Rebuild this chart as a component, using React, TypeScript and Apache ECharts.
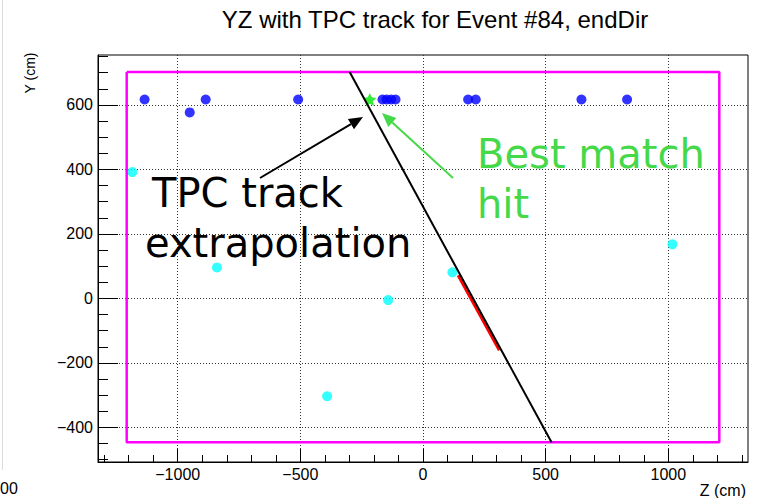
import React, { useEffect, useRef } from "react";
import * as echarts from "echarts";

const TITLE = "YZ with TPC track for Event #84, endDir";

// Axis ranges (cm)
const zRange = [-1325, 1325];
const yRange = [-507, 755];

const zMajorTicks = [-1000, -500, 0, 500, 1000];
const zMinorTicks = [
  -1300, -1200, -1100, -1000, -900, -800, -700, -600, -500, -400, -300, -200, -100,
  0, 100, 200, 300, 400, 500, 600, 700, 800, 900, 1000, 1100, 1200, 1300,
];
const yMajorTicks = [-400, -200, 0, 200, 400, 600];
const yMinorTicks = [
  -500, -450, -400, -350, -300, -250, -200, -150, -100, -50, 0, 50, 100, 150, 200,
  250, 300, 350, 400, 450, 500, 550, 600, 650, 700, 750,
];

// Detector outline
const boxZ = [-1208, 1208, 1208, -1208, -1208];
const boxY = [702, 702, -446, -446, 702];

// CRT hits (two groups)
const blueZ = [-1135, -951, -886, -509, -165, -148, -130, -112, 184, 215, 646, 832];
const blueY = [617, 577, 617, 617, 617, 617, 617, 617, 617, 617, 617, 617];
const cyanZ = [-1185, -840, -391, -142, 120, 1017];
const cyanY = [392, 96, -303, -5, 81, 168];

// Best matching hit
const bestZ = [-217];
const bestY = [617];

// TPC track and its extrapolation
const trackZ = [-299, 524];
const trackY = [702, -446];
const tpcZ = [144, 312];
const tpcY = [72, -160];

const pairs = (xs: number[], ys: number[]) => xs.map((x, i) => [x, ys[i]]);
const fmt = (v: number) => (v < 0 ? "\u2212" + Math.abs(v) : String(v));

const AXIS_FONT = '"Liberation Sans", Arial, sans-serif';
const NOTE_FONT = '"DejaVu Sans", sans-serif';
const NOTE_GREEN = "#45d94a";

const STAR =
  "path://M0,-10 L2.9,-4 L9.5,-3.1 L4.8,1.5 L5.9,8.1 L0,5 L-5.9,8.1 L-4.8,1.5 L-9.5,-3.1 L-2.9,-4 Z";

function arrow(tail: [number, number], tip: [number, number], color: string) {
  const headLen = 14;
  const headHalf = 6;
  const dx = tip[0] - tail[0];
  const dy = tip[1] - tail[1];
  const len = Math.hypot(dx, dy);
  const ux = dx / len;
  const uy = dy / len;
  const bx = tip[0] - ux * headLen;
  const by = tip[1] - uy * headLen;
  const px = -uy;
  const py = ux;
  return [
    {
      type: "line",
      shape: { x1: tail[0], y1: tail[1], x2: bx, y2: by },
      style: { stroke: color, lineWidth: 2 },
      z: 100,
    },
    {
      type: "polygon",
      shape: {
        points: [
          [tip[0], tip[1]],
          [bx + px * headHalf, by + py * headHalf],
          [bx - px * headHalf, by - py * headHalf],
        ],
      },
      style: { fill: color },
      z: 100,
    },
  ];
}

function noteText(text: string, x: number, y: number, color: string) {
  return {
    type: "text",
    x,
    y,
    z: 100,
    style: {
      text,
      fill: color,
      font: `40px ${NOTE_FONT}`,
      align: "left",
      verticalAlign: "middle",
      textAlign: "left",
      textVerticalAlign: "middle",
    },
  };
}

export default function App() {
  const ref = useRef<HTMLDivElement>(null);

  useEffect(() => {
    document.body.style.margin = "0";
    if (!ref.current) return;
    const chart = echarts.init(ref.current, undefined, { renderer: "svg" });

    const axisLabel = {
      color: "#000",
      fontSize: 16,
      fontFamily: AXIS_FONT,
      formatter: fmt,
    };

    const option = {
      animation: false,
      backgroundColor: "#fff",
      grid: {
        left: 98,
        right: 10,
        top: 55,
        bottom: 36,
        show: true,
        borderColor: "#000",
        borderWidth: 1,
        backgroundColor: "#fff",
        containLabel: false,
        outerBoundsMode: "none",
      },
      xAxis: [
        {
          type: "value",
          min: zRange[0],
          max: zRange[1],
          position: "bottom",
          axisLine: { show: true, onZero: false, lineStyle: { color: "#000", width: 1 } },
          axisTick: {
            show: true,
            inside: true,
            length: 13,
            customValues: zMajorTicks,
            lineStyle: { color: "#000" },
          },
          axisLabel: { ...axisLabel, margin: 4, customValues: zMajorTicks },
          splitLine: { show: true, lineStyle: { color: "#333", type: [1, 2], width: 1 } },
        },
        {
          type: "value",
          min: zRange[0],
          max: zRange[1],
          position: "bottom",
          axisLine: { show: false, onZero: false },
          axisTick: {
            show: true,
            inside: true,
            length: 7,
            customValues: zMinorTicks,
            lineStyle: { color: "#000" },
          },
          axisLabel: { show: false },
          splitLine: { show: false },
        },
      ],
      yAxis: [
        {
          type: "value",
          min: yRange[0],
          max: yRange[1],
          position: "left",
          axisLine: { show: true, onZero: false, lineStyle: { color: "#000", width: 1 } },
          axisTick: {
            show: true,
            inside: true,
            length: 20,
            customValues: yMajorTicks,
            lineStyle: { color: "#000" },
          },
          axisLabel: { ...axisLabel, margin: 5, customValues: yMajorTicks },
          splitLine: { show: true, lineStyle: { color: "#333", type: [1, 2], width: 1 } },
        },
        {
          type: "value",
          min: yRange[0],
          max: yRange[1],
          position: "left",
          axisLine: { show: false, onZero: false },
          axisTick: {
            show: true,
            inside: true,
            length: 10,
            customValues: yMinorTicks,
            lineStyle: { color: "#000" },
          },
          axisLabel: { show: false },
          splitLine: { show: false },
        },
      ],
      series: [
        {
          name: "outline",
          type: "line",
          data: pairs(boxZ, boxY),
          symbol: "none",
          lineStyle: { color: "#ff00ff", width: 2.5 },
          silent: true,
        },
        {
          name: "tpc",
          type: "line",
          data: pairs(tpcZ, tpcY),
          symbol: "none",
          lineStyle: { color: "#ff0000", width: 3.5 },
        },
        {
          name: "extrapolation",
          type: "line",
          data: pairs(trackZ, trackY),
          symbol: "none",
          lineStyle: { color: "#000", width: 2 },
        },
        {
          name: "hits A",
          type: "scatter",
          data: pairs(blueZ, blueY),
          symbol: "circle",
          symbolSize: 10,
          itemStyle: { color: "#0000ff" },
        },
        {
          name: "hits B",
          type: "scatter",
          data: pairs(cyanZ, cyanY),
          symbol: "circle",
          symbolSize: 10,
          itemStyle: { color: "#00ffff" },
        },
        {
          name: "best",
          type: "scatter",
          data: pairs(bestZ, bestY),
          symbol: STAR,
          symbolSize: 13,
          itemStyle: { color: "#00e600" },
        },
      ],
      graphic: [
        {
          type: "line",
          shape: { x1: 2.5, y1: 0, x2: 2.5, y2: 470 },
          style: { stroke: "#dcdcdc", lineWidth: 1 },
        },
        {
          type: "text",
          x: 0,
          y: 488,
          style: {
            text: "00",
            fill: "#000",
            font: `16px ${AXIS_FONT}`,
            align: "left",
            verticalAlign: "middle",
            textAlign: "left",
            textVerticalAlign: "middle",
          },
        },
        {
          type: "text",
          x: 435,
          y: 19,
          style: {
            text: TITLE,
            fill: "#000",
            font: `24px ${AXIS_FONT}`,
            align: "center",
            verticalAlign: "middle",
            textAlign: "center",
            textVerticalAlign: "middle",
          },
        },
        {
          type: "text",
          x: 30,
          y: 73,
          rotation: Math.PI / 2,
          style: {
            text: "Y (cm)",
            fill: "#000",
            font: `14px ${AXIS_FONT}`,
            align: "center",
            verticalAlign: "middle",
            textAlign: "center",
            textVerticalAlign: "middle",
          },
        },
        {
          type: "text",
          x: 746,
          y: 490,
          style: {
            text: "Z (cm)",
            fill: "#000",
            font: `16px ${AXIS_FONT}`,
            align: "right",
            verticalAlign: "middle",
            textAlign: "right",
            textVerticalAlign: "middle",
          },
        },
        noteText("TPC track", 152, 193, "#000"),
        noteText("extrapolation", 145, 243, "#000"),
        noteText("Best match", 477, 154, NOTE_GREEN),
        noteText("hit", 477, 204, NOTE_GREEN),
        ...arrow([260, 178], [363, 117], "#000"),
        ...arrow([453, 178], [382, 113], NOTE_GREEN),
      ],
    };

    chart.setOption(option as any);
    return () => chart.dispose();
  }, []);

  return <div ref={ref} style={{ width: 758, height: 498 }} />;
}
